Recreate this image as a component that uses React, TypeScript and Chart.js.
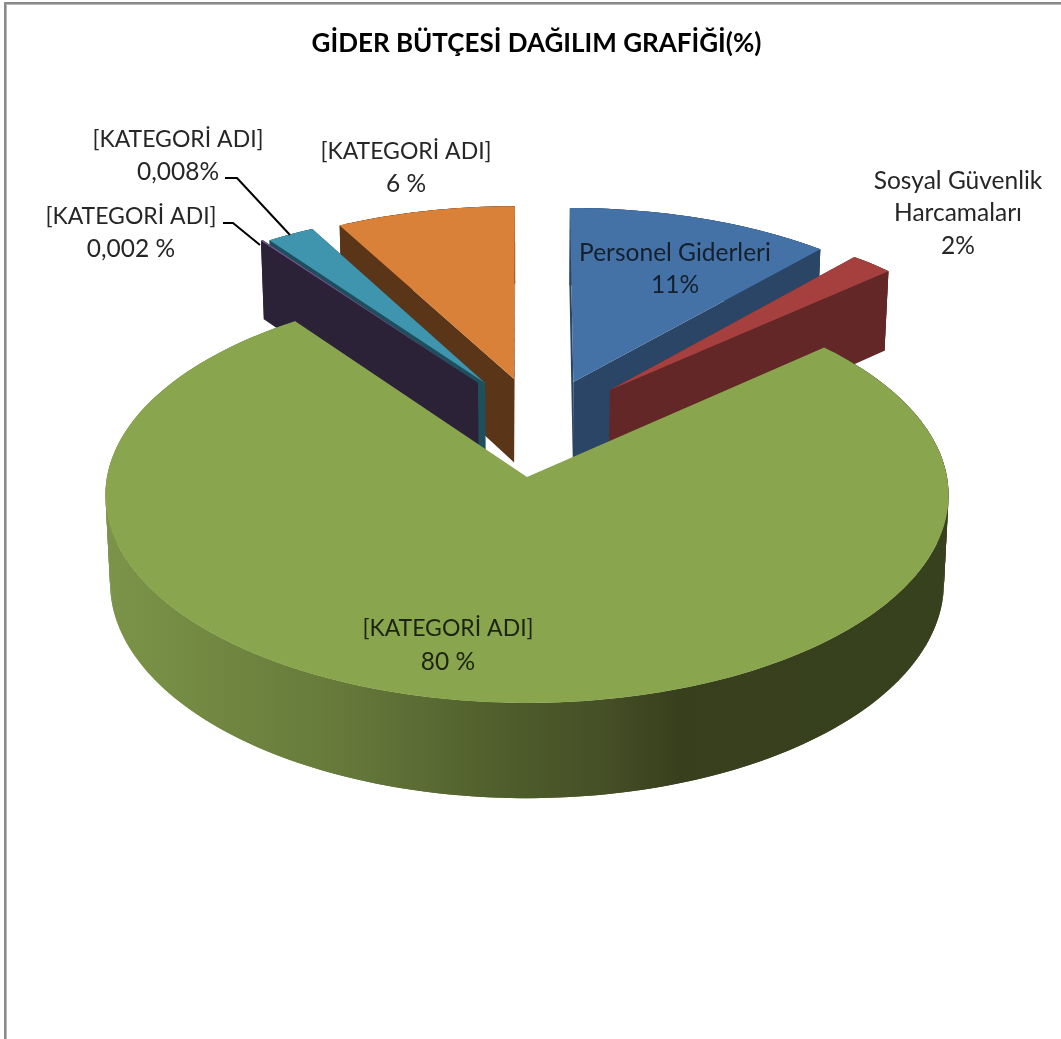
import React, { useEffect, useRef } from "react";
import { Chart, registerables } from "chart.js";

Chart.register(...registerables);

const categories = [
  "Personel Giderleri",
  "Sosyal Güvenlik Harcamaları",
  "[KATEGORİ ADI]",
  "[KATEGORİ ADI]",
  "[KATEGORİ ADI]",
  "[KATEGORİ ADI]",
];
const sliceShares = [11.55, 1.9, 76.5, 0.1, 2.1, 7.85];
const topColors = ["#4471a6", "#a5403e", "#89a54e", "#71588f", "#3f95ae", "#d98039"];
const faceColors = ["#2a4566", "#622726", "#4f642d", "#2c2238", "#1e4f5c", "#5a3517"];
const titleText = "GİDER BÜTÇESİ DAĞILIM GRAFİĞİ(%)";

// Explosion of every slice on the pie's plane (sideways, backwards) and its radius
const explodeU = [0.115, 0.205, 0, -0.1216, -0.104, -0.0323];
const explodeV = [0.479, 0.4375, 0, 0.4746, 0.474, 0.495];
const sliceRadius = [0.99, 0.985, 1, 0.985, 0.985, 0.985];
const drawOrder = [5, 4, 3, 0, 1, 2];

// Text blocks: lines, centre x, middle y of every line
const labelBlocks = [
  { lines: ["Personel Giderleri", "11%"], x: 675, ys: [253, 285], color: "#14202e" },
  { lines: ["Sosyal Güvenlik", "Harcamaları", "2%"], x: 958, ys: [181, 213, 246], color: "#262626" },
  { lines: ["[KATEGORİ ADI]", "80 %"], x: 448, ys: [629, 662], color: "#1c2410" },
  { lines: ["[KATEGORİ ADI]", "0,002 %"], x: 131, ys: [217, 249], color: "#262626" },
  { lines: ["[KATEGORİ ADI]", "0,008%"], x: 178, ys: [140, 172], color: "#262626" },
  { lines: ["[KATEGORİ ADI]", "6 %"], x: 406, ys: [152, 184], color: "#262626" },
];
const leaderLines = [
  [[225, 178], [237, 178], [290, 235]],
  [[223, 223], [233, 223], [260, 245]],
];

const view = { cx: 527, cy: 477, A: 420, B: 206.4, k: 0.0865, D: 87, shrink: 0.011 };

function project(u: number, v: number, z: number): [number, number] {
  const w = 1 / (1 + view.k * v);
  return [
    view.cx + view.A * u * w * (1 - view.shrink * z),
    view.cy - view.B * v * w + view.D * z * w,
  ];
}

function fillPoly(ctx: CanvasRenderingContext2D, pts: [number, number][], fill: any) {
  ctx.beginPath();
  pts.forEach((p, i) => (i ? ctx.lineTo(p[0], p[1]) : ctx.moveTo(p[0], p[1])));
  ctx.closePath();
  ctx.fillStyle = fill;
  ctx.fill();
}

const pie3d = {
  id: "pie3d",
  beforeDraw(chart: any) {
    const ctx = chart.ctx;
    ctx.save();
    ctx.fillStyle = "#ffffff";
    ctx.fillRect(0, 0, chart.width, chart.height);
    ctx.fillStyle = "#8a8a8a";
    ctx.fillRect(4, 2, chart.width - 4, 2);
    ctx.fillRect(4, 2, 2, chart.height - 2);
    ctx.fillStyle = "#b8b8b8";
    ctx.fillRect(6, 4, chart.width - 6, 1);
    ctx.fillRect(6, 4, 1, chart.height - 4);
    ctx.restore();
  },
  beforeDatasetDraw(chart: any) {
    const ctx: CanvasRenderingContext2D = chart.ctx;
    const arcs = chart.getDatasetMeta(0).data;
    ctx.save();
    for (const i of drawOrder) {
      const a0 = arcs[i].startAngle + Math.PI / 2;
      const a1 = arcs[i].endAngle + Math.PI / 2;
      const ou = explodeU[i];
      const ov = explodeV[i];
      const r = sliceRadius[i];
      const at = (t: number, z: number) =>
        project(ou + r * Math.sin(t), ov + r * Math.cos(t), z);
      const apexTop = project(ou, ov, 0);
      const apexBot = project(ou, ov, 1);
      const steps = Math.max(2, Math.ceil((a1 - a0) / (Math.PI / 180)));
      const arcT: [number, number][] = [];
      for (let s = 0; s <= steps; s++) arcT.push(at(a0 + ((a1 - a0) * s) / steps, 0));

      let wallFill: any = faceColors[i];
      if (i === 2) {
        const g = ctx.createLinearGradient(104, 0, 950, 0);
        g.addColorStop(0, "#7c9449");
        g.addColorStop(0.15, "#708640");
        g.addColorStop(0.29, "#65783a");
        g.addColorStop(0.47, "#4f5e2c");
        g.addColorStop(0.59, "#464f26");
        g.addColorStop(0.68, "#383f1d");
        g.addColorStop(1, "#37411d");
        wallFill = g;
      }
      // Wall pieces overlap by one step so that no seams show between them
      for (let s = 0; s < steps; s++) {
        const t0 = a0 + ((a1 - a0) * s) / steps;
        const t1 = a0 + ((a1 - a0) * Math.min(s + 2, steps)) / steps;
        fillPoly(ctx, [at(t0, 0), at(t1, 0), at(t1, 1), at(t0, 1)], wallFill);
      }
      const startFace: [number, number][] = [apexTop, at(a0, 0), at(a0, 1), apexBot];
      const endFace: [number, number][] = [apexTop, at(a1, 0), at(a1, 1), apexBot];
      const mid = (a0 + a1) / 2;
      if (i !== 2) {
        if (mid < Math.PI) {
          fillPoly(ctx, startFace, faceColors[i]);
          fillPoly(ctx, endFace, faceColors[i]);
        } else {
          fillPoly(ctx, endFace, faceColors[i]);
          fillPoly(ctx, startFace, faceColors[i]);
        }
      }
      fillPoly(ctx, [apexTop, ...arcT], topColors[i]);
    }
    ctx.restore();
    return false;
  },
  afterDatasetsDraw(chart: any) {
    const ctx: CanvasRenderingContext2D = chart.ctx;
    ctx.save();
    ctx.strokeStyle = "#000000";
    ctx.lineWidth = 2;
    for (const line of leaderLines) {
      ctx.beginPath();
      line.forEach((p, i) => (i ? ctx.lineTo(p[0], p[1]) : ctx.moveTo(p[0], p[1])));
      ctx.stroke();
    }
    ctx.textAlign = "center";
    ctx.textBaseline = "middle";
    for (const b of labelBlocks) {
      ctx.fillStyle = b.color;
      b.lines.forEach((l, i) => {
        ctx.font = l.startsWith("[") ? "23px Lato" : "24.5px Lato";
        ctx.fillText(l, b.x, b.ys[i]);
      });
    }
    ctx.restore();
  },
};

export default function App() {
  const ref = useRef<HTMLCanvasElement>(null);
  useEffect(() => {
    const chart = new Chart(ref.current as HTMLCanvasElement, {
      type: "pie",
      data: {
        labels: categories,
        datasets: [{ data: sliceShares, backgroundColor: topColors, borderWidth: 0 }],
      },
      options: {
        responsive: false,
        animation: false,
        layout: { padding: { left: 12 } },
        plugins: {
          legend: { display: false },
          tooltip: { enabled: false },
          title: {
            display: true,
            text: titleText,
            color: "#000000",
            font: { family: "Lato", size: 26, weight: "bold" },
            padding: { top: 28, bottom: 10 },
          },
        },
      },
      plugins: [pie3d],
    } as any);
    return () => chart.destroy();
  }, []);
  return (
    <div style={{ position: "absolute", left: 0, top: 0, width: 1061, height: 1039, overflow: "hidden" }}>
      <canvas ref={ref} width={1061} height={1039} style={{ display: "block" }} />
    </div>
  );
}
